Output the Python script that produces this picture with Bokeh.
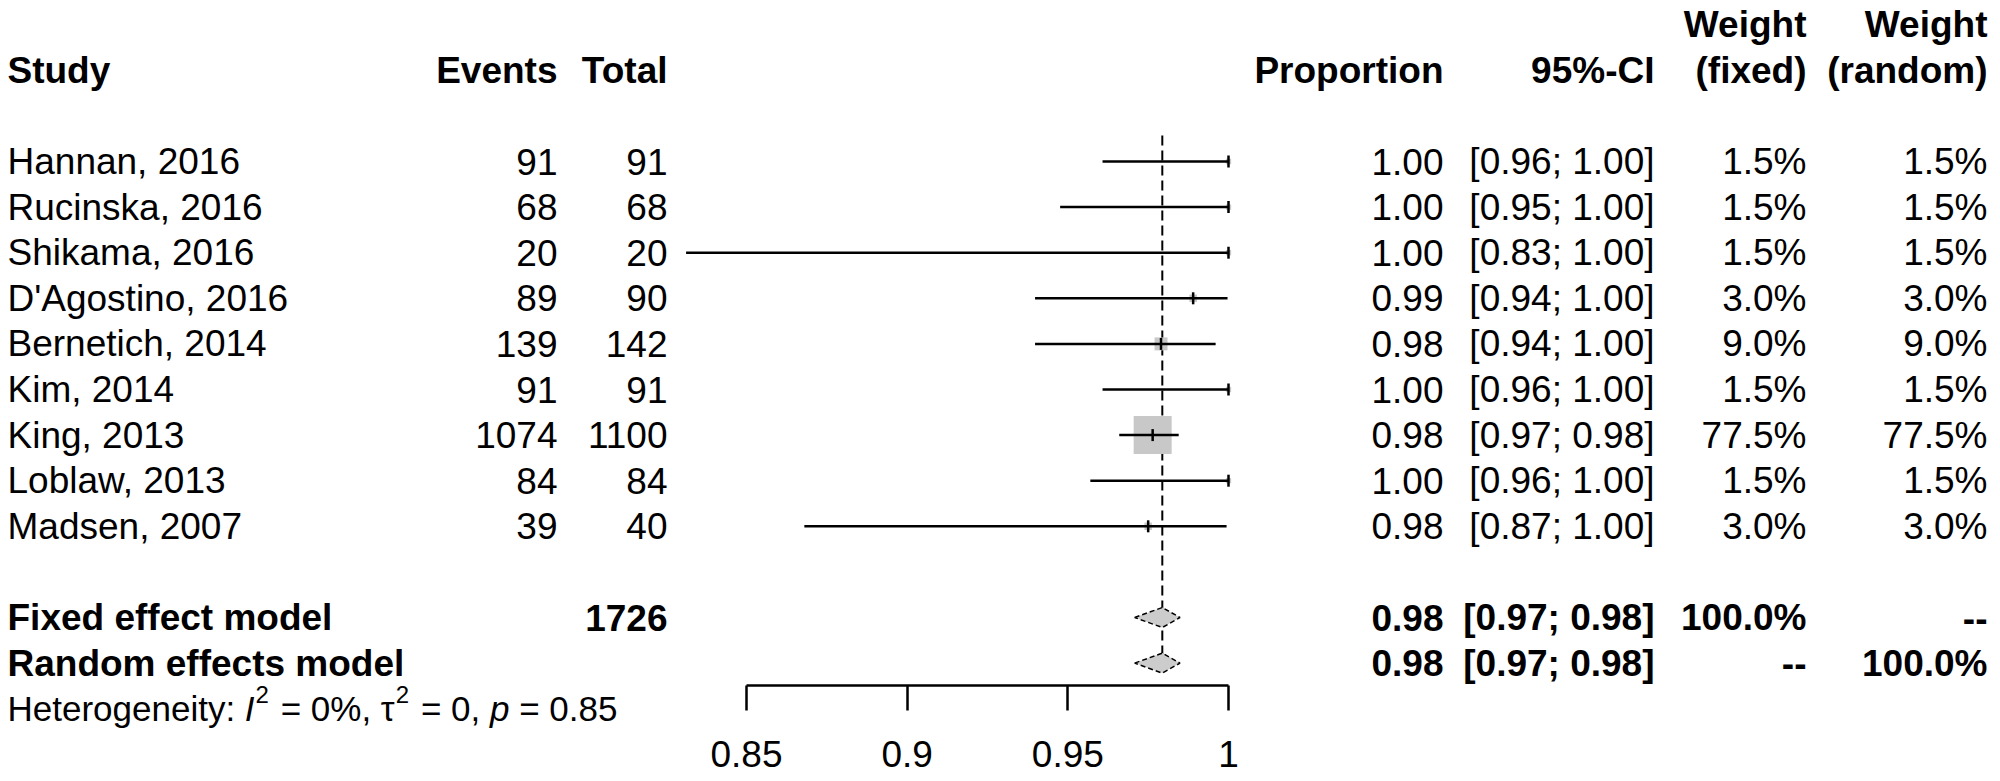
import math
from bokeh.plotting import figure
from bokeh.models import ColumnDataSource, Range1d, LinearAxis, FixedTicker, CustomJSTickFormatter
from bokeh.core.properties import value
from bokeh.embed import file_html
from bokeh.resources import INLINE

# ---------------- data ----------------
studies = ["Hannan, 2016", "Rucinska, 2016", "Shikama, 2016", "D'Agostino, 2016",
           "Bernetich, 2014", "Kim, 2014", "King, 2013", "Loblaw, 2013", "Madsen, 2007"]
events = [91, 68, 20, 89, 139, 91, 1074, 84, 39]
totals = [91, 68, 20, 90, 142, 91, 1100, 84, 40]
proportion = [1.00, 1.00, 1.00, 0.989, 0.979, 1.00, 0.9764, 1.00, 0.975]
ci_lower = [0.9608, 0.9476, 0.8312, 0.9398, 0.9398, 0.9608, 0.966, 0.957, 0.868]
ci_upper = [1.0, 1.0, 1.0, 0.9997, 0.996, 1.0, 0.9845, 1.0, 0.9994]
prop_labels = ["1.00", "1.00", "1.00", "0.99", "0.98", "1.00", "0.98", "1.00", "0.98"]
ci_labels = ["[0.96; 1.00]", "[0.95; 1.00]", "[0.83; 1.00]", "[0.94; 1.00]", "[0.94; 1.00]",
             "[0.96; 1.00]", "[0.97; 0.98]", "[0.96; 1.00]", "[0.87; 1.00]"]
weight_fixed = [1.5, 1.5, 1.5, 3.0, 9.0, 1.5, 77.5, 1.5, 3.0]
weight_random = [1.5, 1.5, 1.5, 3.0, 9.0, 1.5, 77.5, 1.5, 3.0]

models = ["Fixed effect model", "Random effects model"]
model_total = ["1726", ""]
model_est = [0.9794, 0.9794]
model_lower = [0.9708, 0.9708]
model_upper = [0.9849, 0.9849]
model_prop_labels = ["0.98", "0.98"]
model_ci_labels = ["[0.97; 0.98]", "[0.97; 0.98]"]
model_wf_labels = ["100.0%", "--"]
model_wr_labels = ["--", "100.0%"]

header_row = ["Study", "Events", "Total", "Proportion", "95%-CI", "(fixed)", "(random)"]
header_top = ["Weight", "Weight"]

# heterogeneity statement split into (text, style) pieces
het_pieces = [("Heterogeneity: ", "normal"), ("I", "italic"), ("2", "sup"),
              (" = 0%, \u03c4", "normal"), ("2", "sup"), (" = 0, ", "normal"),
              ("p", "italic"), (" = 0.85", "normal")]

axis_ticks = [0.85, 0.9, 0.95, 1.0]
axis_tick_labels = ["0.85", "0.9", "0.95", "1"]

# ---------------- layout ----------------
FONT = "Liberation Sans"
FS = 37
FS_HET = 35
W, H = 1998, 780
ROW0, PITCH = 161, 45.6


def row_y(k):
    return ROW0 + k * PITCH


X_STUDY, X_EVENTS, X_TOTAL = 7, 557, 667
X_PROP, X_CI, X_WF, X_WR = 1443, 1654, 1806, 1987
PX_LO, PX_HI = 746, 1228          # pixel positions of 0.85 and 1.0
AX_Y = 685

p = figure(width=W, height=H, x_range=Range1d(0, W), y_range=Range1d(H, 0),
           output_backend="svg", toolbar_location=None, min_border=0,
           x_axis_type=None, y_axis_type=None)
p.outline_line_color = None
p.background_fill_color = "white"
p.border_fill_color = "white"

scale = (axis_ticks[-1] - axis_ticks[0]) / (PX_HI - PX_LO)
p.extra_x_ranges = {"prop": Range1d(axis_ticks[0] - PX_LO * scale,
                                    axis_ticks[-1] + (W - PX_HI) * scale)}


def add_text(xs, ys, texts, align="left", style="normal", size=FS):
    src = ColumnDataSource(dict(x=xs, y=ys, t=texts))
    p.text(x="x", y="y", text="t", source=src, text_align=align, text_baseline="middle",
           text_font=value(FONT), text_font_size=f"{size}px", text_font_style=style,
           text_color="black")


# headers
add_text([X_WF, X_WR], [row_y(-3)] * 2, header_top, "right", "bold")
add_text([X_STUDY], [row_y(-2)], header_row[:1], "left", "bold")
add_text([X_EVENTS, X_TOTAL, X_PROP, X_CI, X_WF, X_WR], [row_y(-2)] * 6, header_row[1:], "right", "bold")

# study rows
ys = [row_y(i) for i in range(len(studies))]
add_text([X_STUDY] * len(studies), ys, studies, "left")
add_text([X_EVENTS] * len(studies), ys, [str(v) for v in events], "right")
add_text([X_TOTAL] * len(studies), ys, [str(v) for v in totals], "right")
add_text([X_PROP] * len(studies), ys, prop_labels, "right")
add_text([X_CI] * len(studies), ys, ci_labels, "right")
add_text([X_WF] * len(studies), ys, [f"{w:.1f}%" for w in weight_fixed], "right")
add_text([X_WR] * len(studies), ys, [f"{w:.1f}%" for w in weight_random], "right")

# model rows
mys = [row_y(len(studies) + 1 + i) for i in range(len(models))]
add_text([X_STUDY] * 2, mys, models, "left", "bold")
add_text([X_TOTAL] * 2, mys, model_total, "right", "bold")
add_text([X_PROP] * 2, mys, model_prop_labels, "right", "bold")
add_text([X_CI] * 2, mys, model_ci_labels, "right", "bold")
add_text([X_WF] * 2, mys, model_wf_labels, "right", "bold")
add_text([X_WR] * 2, mys, model_wr_labels, "right", "bold")

# heterogeneity line, pieces placed with Arial advance widths
ADV = {'H': .722, 'e': .556, 't': .278, 'r': .333, 'o': .556, 'g': .556, 'n': .556, 'i': .222,
       'y': .5, ':': .278, ' ': .278, 'I': .278, '=': .584, '0': .556, '%': .889, ',': .278,
       'p': .556, '.': .278, '8': .556, '5': .556, '2': .556, '\u03c4': .40}


def adv(s, size):
    return sum(ADV.get(c, .556) for c in s) * size


hy = row_y(len(studies) + 3)
cx = X_STUDY
for txt, sty in het_pieces:
    lead = len(txt) - len(txt.lstrip(" "))
    trail = len(txt) - len(txt.rstrip(" "))
    core = txt.strip(" ")
    if sty == "sup":
        sz = round(FS_HET * 0.68)
        add_text([cx + 1], [hy - 14], [core], "left", "normal", sz)
        cx += adv(core, sz) + 3
    else:
        cx += adv(" " * lead, FS_HET)
        add_text([cx], [hy], [core], "left", sty, FS_HET)
        cx += adv(core, FS_HET) + adv(" " * trail, FS_HET)

# reference (pooled) dashed line
p.segment(x0=[model_est[0]], x1=[model_est[0]], y0=[row_y(-0.57)], y1=[mys[1]],
          x_range_name="prop", line_color="black", line_width=2, line_dash="10 5")

# squares sized by weight
sq = ColumnDataSource(dict(x=proportion, y=ys,
                           s=[38 * math.sqrt(w / max(weight_fixed)) for w in weight_fixed],
                           lo=ci_lower, hi=ci_upper))
p.scatter(x="x", y="y", size="s", marker="square", source=sq, x_range_name="prop",
          fill_color="#C8C8C8", line_color=None)
p.segment(x0="lo", x1="hi", y0="y", y1="y", source=sq, x_range_name="prop",
          line_color="black", line_width=2.5)
p.scatter(x="x", y="y", marker="dash", angle=math.pi / 2, size=12, source=sq,
          x_range_name="prop", line_color="black", line_width=2.5)

# diamonds
dh = 10
p.patches(xs=[[lo, e, hi, e] for lo, e, hi in zip(model_lower, model_est, model_upper)],
          ys=[[y, y - dh, y, y + dh] for y in mys], x_range_name="prop",
          fill_color="#CCCCCC", line_color="black", line_width=1.5, line_dash="5 3")

# axis
ax = LinearAxis(x_range_name="prop", ticker=FixedTicker(ticks=axis_ticks),
                formatter=CustomJSTickFormatter(
                    args=dict(vals=axis_ticks, labs=axis_tick_labels),
                    code="for (let i = 0; i < vals.length; i++) { if (Math.abs(vals[i] - tick) < 1e-9) { return labs[i]; } } return tick.toString();"),
                bounds=(axis_ticks[0], axis_ticks[-1]), fixed_location=AX_Y)
ax.axis_line_width = 2.5
ax.axis_line_color = "black"
ax.major_tick_line_width = 2.5
ax.major_tick_line_color = "black"
ax.major_tick_out = 25
ax.major_tick_in = 0
ax.minor_tick_line_color = None
ax.major_label_text_font = FONT
ax.major_label_text_font_size = f"{FS}px"
ax.major_label_text_color = "black"
ax.major_label_standoff = 30
p.add_layout(ax, "below")

open("out.html", "w").write(file_html(p, INLINE))
